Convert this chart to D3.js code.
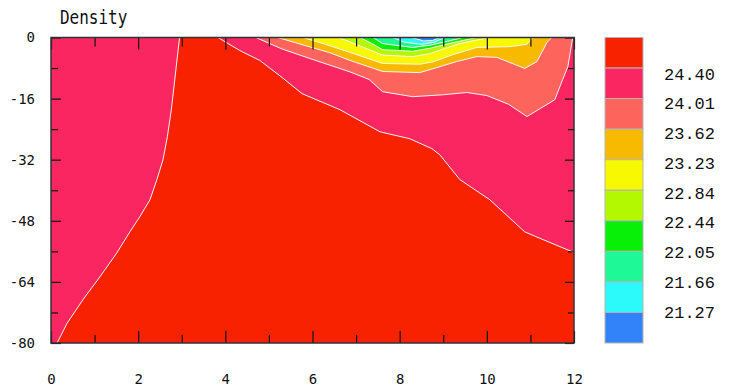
<!DOCTYPE html>
<html>
<head>
<meta charset="utf-8">
<script src="https://cdn.jsdelivr.net/npm/d3@7"></script>
<style>
  html, body { margin: 0; padding: 0; background: #fff; }
  svg { display: block; }
</style>
</head>
<body>
<svg id="chart" width="735" height="389"></svg>
<script>
// Density (sigma-t) levels that bound the colour bands, lightest first
const levels = [21.27, 21.66, 22.05, 22.44, 22.84, 23.23, 23.62, 24.01, 24.40];
// Band colours, from lightest water (< 21.27) to densest (> 24.40)
const bandColors = ["#3282fa", "#2cfafa", "#1ef896", "#08f008", "#b4f800",
                    "#f8f800", "#f8ba00", "#fd645c", "#fa2662", "#f92200"];

// Elevation (m) of each isopycnal along the section, as [distance, elevation] pairs.
// 0 where the surface water is already denser than the level, -80 where the whole column is lighter.
const iso2127 = [[0, 0], [8.28, 0], [8.55, -0.9], [8.75, -0.8], [8.92, 0], [12, 0]];
const iso2166 = [[0, 0], [7.84, 0], [8.1, -1.2], [8.5, -1.8], [8.8, -1.2], [9.04, 0], [12, 0]];
const iso2205 = [[0, 0], [7.39, 0], [7.61, -1.6], [8.3, -2.6], [8.7, -2.0], [9.1, -1.0], [9.45, 0], [12, 0]];
const iso2244 = [[0, 0], [7.09, 0], [7.35, -1.5], [7.61, -3.2], [8.3, -3.6], [8.7, -2.8], [9.2, -1.4], [9.77, 0], [12, 0]];
const iso2284 = [[0, 0], [6.6, 0], [7.0, -1.8], [7.61, -4.6], [8.3, -5.0], [8.7, -4.2], [9.0, -3.0], [9.4, -1.5], [10.07, 0], [12, 0]];
const iso2323 = [[0, 0], [5.78, 0], [6.3, -1.8], [6.86, -3.9], [7.61, -6.8], [8.46, -7.0], [8.76, -6.4], [9.22, -4.5],
                 [9.77, -2.6], [10.53, -2.4], [10.92, -1.8], [11.06, 0], [12, 0]];
const iso2362 = [[0, 0], [5.2, 0], [5.8, -2.0], [6.4, -4.0], [6.86, -6.0], [7.61, -8.9], [8.46, -9.2], [8.85, -7.9],
                 [9.31, -6.3], [9.77, -5.0], [10.23, -5.2], [10.87, -8.1], [11.15, -6.3], [11.38, -1.3], [11.49, 0], [12, 0]];
const iso2401 = [[0, 0], [4.7, 0], [5.3, -3.0], [5.94, -5.5], [6.86, -9.0], [7.3, -11.0], [7.61, -14.2], [8.3, -15.5],
                 [9.0, -15.0], [9.54, -14.4], [10.0, -15.2], [10.5, -17.5], [10.92, -20.7], [11.56, -16.3],
                 [11.74, -11.0], [11.86, -7.6], [11.97, 0], [12, 0]];
const iso2440 = [[0, -80], [0.14, -80], [0.37, -74.8], [0.73, -68.7], [1.12, -62.7], [1.51, -56.4], [1.81, -50.9],
                 [2.04, -46.9], [2.27, -42.5], [2.43, -37.2], [2.57, -32], [2.67, -26], [2.76, -19], [2.87, -8],
                 [2.95, 0], [3.83, 0], [4.33, -3.4], [4.79, -6.0], [5.25, -10.0], [5.76, -14.7], [6.63, -18.9],
                 [7.55, -24.7], [8.23, -26.5], [8.74, -29.1], [8.92, -30.7], [9.38, -37.2], [10.07, -42.5],
                 [10.87, -50.9], [11.2, -52.5], [12, -56.3]];
const isopycnals = [iso2127, iso2166, iso2205, iso2244, iso2284, iso2323, iso2362, iso2401, iso2440];

// Axis ticks
const xTicks = [0, 2, 4, 6, 8, 10, 12];
const xMinorTicks = [1, 3, 5, 7, 9, 11];
const yTicks = [0, -16, -32, -48, -64, -80];
const yMinorTicks = [-8, -24, -40, -56, -72];
const titleText = "Density";

const svg = d3.select("#chart");
const plot = { left: 51, right: 574, top: 37.5, bottom: 343 };

const x = d3.scaleLinear().domain([0, 12]).range([plot.left, plot.right]);
const y = d3.scaleLinear().domain([0, -80]).range([plot.top, plot.bottom]);

svg.append("defs").append("clipPath").attr("id", "plot-clip")
  .append("rect")
  .attr("x", plot.left).attr("y", plot.top)
  .attr("width", plot.right - plot.left).attr("height", plot.bottom - plot.top);

const field = svg.append("g").attr("clip-path", "url(#plot-clip)");

// Lightest band underneath, then each denser band painted below its isopycnal
field.append("rect")
  .attr("x", plot.left).attr("y", plot.top)
  .attr("width", plot.right - plot.left).attr("height", plot.bottom - plot.top)
  .attr("fill", bandColors[0]);

const below = d3.area()
  .x(d => x(d[0]))
  .y0(d => y(d[1]))
  .y1(y(-80));

field.selectAll("path.band")
  .data(isopycnals)
  .join("path")
  .attr("class", "band")
  .attr("d", below)
  .attr("fill", (d, i) => bandColors[i + 1]);

// Contour lines: skip the stretches lying along the surface or the bottom
function splitRuns(pts) {
  const segs = [];
  let cur = [];
  for (let i = 0; i < pts.length - 1; i++) {
    const a = pts[i], b = pts[i + 1];
    const flat = (a[1] === 0 && b[1] === 0) || (a[1] === -80 && b[1] === -80);
    if (flat) {
      if (cur.length) { segs.push(cur); cur = []; }
      continue;
    }
    if (!cur.length) cur.push(a);
    cur.push(b);
  }
  if (cur.length) segs.push(cur);
  return segs;
}

const contour = d3.line().x(d => x(d[0])).y(d => y(d[1]));
field.selectAll("path.iso")
  .data(isopycnals.flatMap(splitRuns))
  .join("path")
  .attr("class", "iso")
  .attr("d", contour)
  .attr("fill", "none")
  .attr("stroke", "#fff4f4")
  .attr("stroke-width", 1);

// Axes: ticks point into the plot
const tickFont = "'DejaVu Sans Mono', monospace";

function styleAxis(g) {
  g.select(".domain").remove();
  g.selectAll(".tick line").attr("stroke", "#111").attr("stroke-width", 1.2);
  g.selectAll(".tick text").attr("font-family", tickFont).attr("font-size", 14).attr("fill", "#111");
}

svg.append("g").attr("transform", `translate(0,${plot.bottom})`)
  .call(d3.axisBottom(x).tickValues(xTicks).tickSize(-12).tickPadding(31).tickFormat(d3.format("d")))
  .call(styleAxis);
svg.append("g").attr("transform", `translate(0,${plot.bottom})`)
  .call(d3.axisBottom(x).tickValues(xMinorTicks).tickSize(-8).tickFormat(""))
  .call(styleAxis);
svg.append("g").attr("transform", `translate(0,${plot.top})`)
  .call(d3.axisTop(x).tickValues(xTicks).tickSize(-12).tickFormat(""))
  .call(styleAxis);
svg.append("g").attr("transform", `translate(0,${plot.top})`)
  .call(d3.axisTop(x).tickValues(xMinorTicks).tickSize(-9).tickFormat(""))
  .call(styleAxis);

svg.append("g").attr("transform", `translate(${plot.left},0)`)
  .call(d3.axisLeft(y).tickValues(yTicks).tickSize(-10).tickPadding(16).tickFormat(d3.format("d")))
  .call(styleAxis);
svg.append("g").attr("transform", `translate(${plot.left},0)`)
  .call(d3.axisLeft(y).tickValues(yMinorTicks).tickSize(-7).tickFormat(""))
  .call(styleAxis);
svg.append("g").attr("transform", `translate(${plot.right},0)`)
  .call(d3.axisRight(y).tickValues(yTicks).tickSize(-9).tickFormat(""))
  .call(styleAxis);
svg.append("g").attr("transform", `translate(${plot.right},0)`)
  .call(d3.axisRight(y).tickValues(yMinorTicks).tickSize(-6).tickFormat(""))
  .call(styleAxis);

svg.selectAll("text").filter(function () { return this.textContent.startsWith("−"); })
  .text(function () { return this.textContent.replace("−", "-"); });

// Plot frame
svg.append("rect")
  .attr("x", plot.left).attr("y", plot.top)
  .attr("width", plot.right - plot.left).attr("height", plot.bottom - plot.top)
  .attr("fill", "none").attr("stroke", "#333").attr("stroke-width", 1.5);

// Title
svg.append("text")
  .attr("transform", "translate(60,23.5) scale(1,1.2)")
  .attr("font-family", tickFont)
  .attr("font-size", 16)
  .attr("fill", "#111")
  .text(titleText);

// Colour bar: densest band at the top
const barBands = d3.range(bandColors.length).reverse();
const barY = d3.scaleBand().domain(barBands).range([plot.top, plot.bottom]);
const bar = svg.append("g");
bar.selectAll("rect")
  .data(barBands)
  .join("rect")
  .attr("x", 605).attr("y", d => barY(d))
  .attr("width", 38).attr("height", barY.bandwidth())
  .attr("fill", d => bandColors[d])
  .attr("stroke", "#b4b4b4").attr("stroke-width", 1);

const labelLevels = levels.slice().reverse();
const labelY = d3.scaleLinear().domain([0, labelLevels.length - 1]).range([75, 313]);
bar.selectAll("text")
  .data(labelLevels)
  .join("text")
  .attr("x", 664)
  .attr("y", (d, i) => labelY(i))
  .attr("dominant-baseline", "central")
  .attr("font-family", "'Liberation Mono', monospace")
  .attr("font-size", 17)
  .attr("fill", "#111")
  .text(d => d.toFixed(2));
</script>
</body>
</html>
